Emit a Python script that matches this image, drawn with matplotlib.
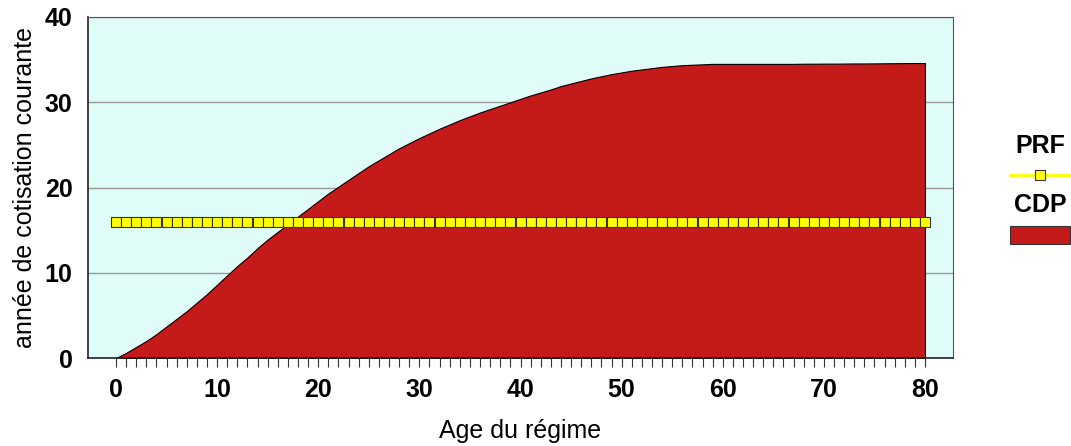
import numpy as np
import matplotlib
matplotlib.use("Agg")
import matplotlib.pyplot as plt
from matplotlib.lines import Line2D
from matplotlib.patches import Rectangle

plt.rcParams['font.family'] = ['Liberation Sans', 'DejaVu Sans']

# Age du régime (0..80) and CDP values
ages = list(range(0, 81))
cdp = [0.0, 0.6, 1.3, 2.0, 2.8, 3.7, 4.6, 5.5, 6.5, 7.5,
       8.6, 9.7, 10.8, 11.8, 12.9, 13.9, 14.8, 15.7, 16.6, 17.5,
       18.4, 19.3, 20.1, 20.9, 21.7, 22.5, 23.2, 23.9, 24.6, 25.2,
       25.8, 26.35, 26.9, 27.4, 27.9, 28.35, 28.8, 29.2, 29.6, 30.0,
       30.4, 30.8, 31.15, 31.5, 31.9, 32.2, 32.5, 32.8, 33.05, 33.3,
       33.5, 33.7, 33.85, 34.0, 34.15, 34.25, 34.35, 34.4, 34.45, 34.5,
       34.5, 34.5, 34.5, 34.5, 34.5, 34.5, 34.5, 34.5, 34.52, 34.52,
       34.53, 34.53, 34.54, 34.55, 34.55, 34.56, 34.57, 34.58, 34.59, 34.6,
       34.6]
prf = [16.0] * 81

x_ticks = [0, 10, 20, 30, 40, 50, 60, 70, 80]
y_ticks = [0, 10, 20, 30, 40]

RED = '#C41A1A'
BG = '#DFFCF9'

fig = plt.figure(figsize=(10.71, 4.46), dpi=100)
ax = fig.add_axes([88 / 1071, 88 / 446, 865 / 1071, 341 / 446])
ax.set_facecolor(BG)

ax.fill_between(ages, cdp, 0, facecolor=RED, edgecolor='black', linewidth=0.8, zorder=2)
ax.plot(ages, prf, color='#FFFF00', linewidth=2, marker='s', markersize=7.6,
        markerfacecolor='#FFFF00', markeredgecolor='#333333', markeredgewidth=0.8, zorder=3)

ax.set_xlim(-2.77, 82.77)
ax.set_ylim(0, 40)
ax.set_xticks(x_ticks)
ax.set_xticks(ages, minor=True)
ax.set_yticks(y_ticks)
ax.tick_params(axis='x', which='both', direction='out', length=6.5, width=0.8,
               color='#333333', pad=8)
ax.tick_params(axis='y', length=0, pad=11)
for lbl in ax.get_xticklabels() + ax.get_yticklabels():
    lbl.set_fontweight('bold')
    lbl.set_fontsize(18)

ax.yaxis.grid(True, color='#999999', linewidth=1, zorder=1)
ax.set_axisbelow(True)

for side in ['left', 'bottom']:
    ax.spines[side].set_color('#222222')
    ax.spines[side].set_linewidth(1.2)
for side in ['top', 'right']:
    ax.spines[side].set_color('#555555')
    ax.spines[side].set_linewidth(0.8)

ax.set_xlabel('Age du régime', fontsize=18, labelpad=12)
ax.set_ylabel('année de cotisation courante', fontsize=18, labelpad=6)

# legend drawn by hand on the right
fig.text(1040 / 1071, 1 - 146 / 446, 'PRF', fontsize=18, fontweight='bold',
         ha='center', va='center')
fig.add_artist(Line2D([1010 / 1071, 1071 / 1071], [1 - 175 / 446] * 2,
                      color='#FFFF00', linewidth=2, transform=fig.transFigure))
fig.add_artist(Line2D([1040 / 1071], [1 - 175 / 446], marker='s', markersize=7.6,
                      markerfacecolor='#FFFF00', markeredgecolor='#333333',
                      markeredgewidth=0.8, transform=fig.transFigure))
fig.text(1040 / 1071, 1 - 205 / 446, 'CDP', fontsize=18, fontweight='bold',
         ha='center', va='center')
fig.add_artist(Rectangle((1010 / 1071, 1 - 244 / 446), 60 / 1071, 18 / 446,
                         facecolor=RED, edgecolor='#333333', linewidth=0.8,
                         transform=fig.transFigure))

fig.savefig('out.png', dpi=100)
